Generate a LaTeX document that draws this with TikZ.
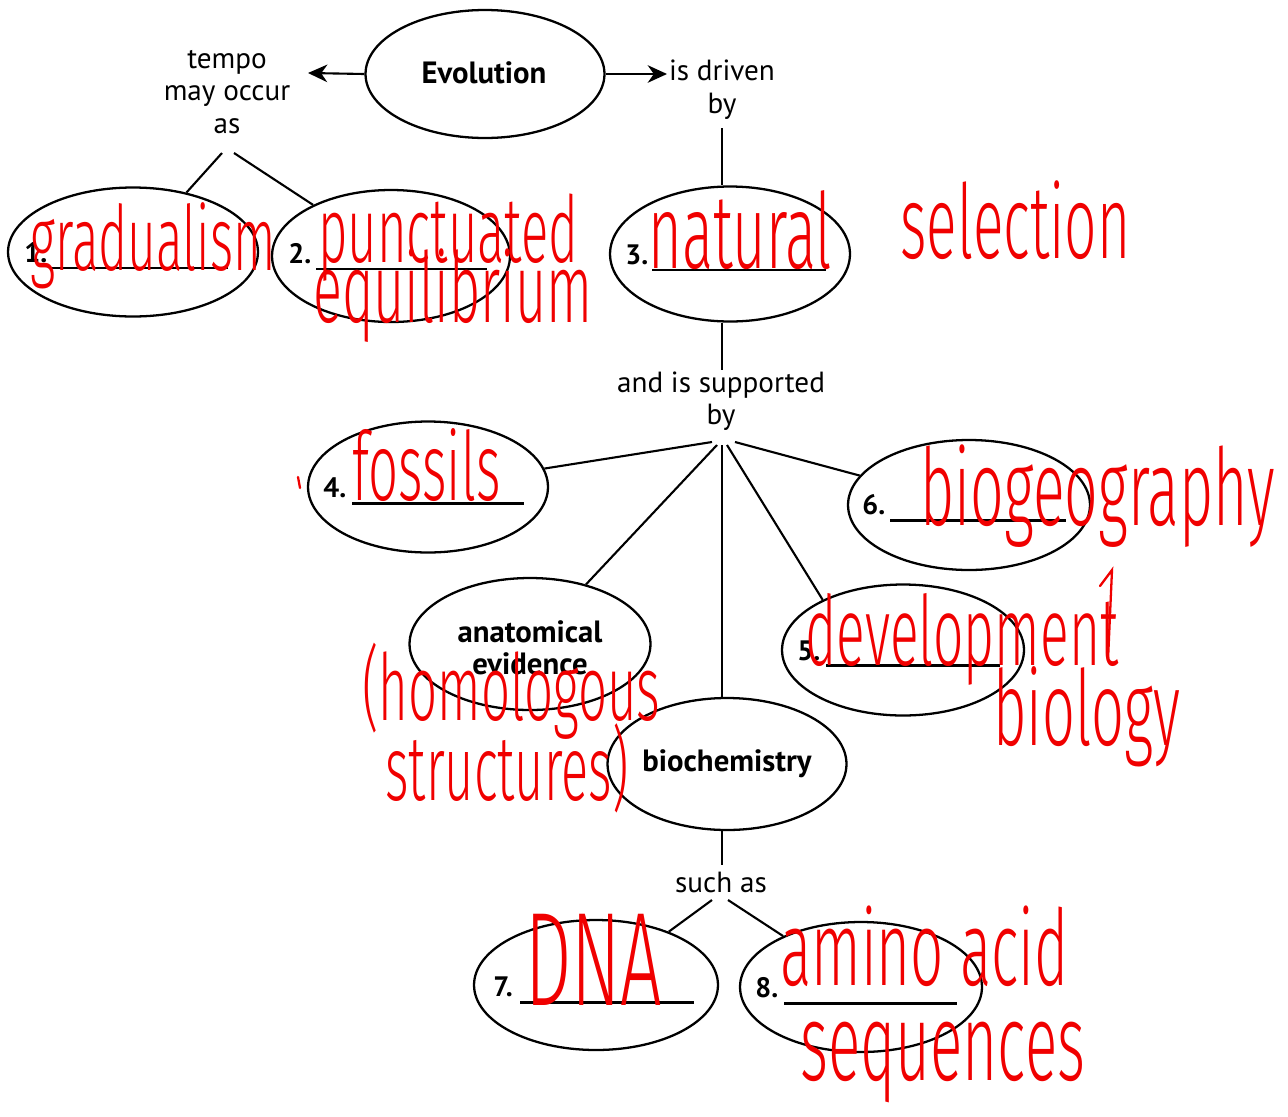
\documentclass[tikz,border=0pt]{standalone}
\usepackage{fontspec}
\setmainfont{PT Sans}
\usepackage{graphicx}
\usetikzlibrary{shapes.geometric,arrows.meta}
\IfFontExistsTF{Fira Sans Light}
  {\newfontfamily\hand[FakeStretch=0.55]{Fira Sans Light}}
  {\newfontfamily\hand[FakeStretch=0.6]{PT Sans}}
\newlength\pxu \setlength\pxu{0.02cm}
\definecolor{pen}{RGB}{240,0,0}
\newcommand\hw[2]{\resizebox{#1\pxu}{!}{\hand #2}}
\begin{document}
\begin{tikzpicture}[x=0.02cm,y=-0.02cm,
  ell/.style 2 args={draw, ellipse, line width=1.3pt, inner sep=0pt, minimum width=#1cm, minimum height=#2cm},
  lbl/.style={font=\fontsize{16.6}{18.6}\selectfont, align=center, inner sep=0pt},
  bld/.style={font=\fontsize{17.5}{18}\selectfont\bfseries, align=center, inner sep=0pt},
  num/.style={font=\fontsize{16}{16}\selectfont\bfseries, inner sep=0pt, anchor=base west},
  con/.style={line width=1.2pt},
  arr/.style={con, -{Stealth[length=11pt,width=10pt,inset=3.5pt]}},
  blank/.style={line width=1.7pt},
  hand/.style={text=pen, inner sep=0pt, anchor=base west},
  pens/.style={draw=pen, line width=1.3pt, line cap=round},
]
\useasboundingbox (0,0) rectangle (1288,1116);
% ellipses
\node[ell={4.78}{2.56}] (ev) at (485,74) {};
\node[ell={5.0}{2.58}] (n1) at (133,252) {};
\node[ell={4.76}{2.64}] (n2) at (391,256) {};
\node[ell={4.8}{2.7}] (n3) at (730,254) {};
\node[ell={4.8}{2.62}] (n4) at (428,487) {};
\node[ell={4.84}{2.6}] (n6) at (969,505) {};
\node[ell={4.82}{2.64}] (an) at (530,644) {};
\node[ell={4.84}{2.62}] (n5) at (903,650) {};
\node[ell={4.78}{2.64}] (bio) at (727,764) {};
\node[ell={4.88}{2.6}] (n7) at (596,985) {};
\node[ell={4.84}{2.6}] (n8) at (861,987) {};
% texts in ellipses
\node[bld] (evt) at (484,73) {Evolution};
\node[bld] (ant) at (530,648) {anatomical\\evidence};
\node[bld] (biot) at (727,764) {biochemistry};
% link labels
\node[lbl] (tempo) at (227,92) {tempo\\may occur\\as};
\node[lbl] (drv) at (722,90) {is driven\\by};
\node[lbl] (sup) at (721,401) {and is supported\\by};
\node[lbl] (such) at (721,882) {such as};
% numbers and blanks
\node[num] (k1) at (24,262) {1.};
\node[num] (k2) at (288,263) {2.};
\node[num] (k3) at (625,264) {3.};
\node[num] (k4) at (323,497) {4.};
\node[num] (k6) at (862,514) {6.};
\node[num] (k5) at (797,660) {5.};
\node[num] (k7) at (493,996) {7.};
\node[num] (k8) at (755,997) {8.};
\draw[blank] (50,268) -- (228,268);
\draw[blank] (316,269) -- (487,269);
\draw[blank] (652,270) -- (826,270);
\draw[blank] (352,503) -- (524,503);
\draw[blank] (890,520) -- (1066,520);
\draw[blank] (826,665) -- (1000,665);
\draw[blank] (520,1002) -- (694,1002);
\draw[blank] (784,1003) -- (957,1003);
% connectors
\coordinate (al) at (308,73);
\coordinate (ar) at (667,74);
\draw[arr] (ev.west) -- (al);
\draw[arr] (ev.east) -- (ar);
\coordinate (t1) at (222,153);
\coordinate (t2) at (234,153);
\draw[con] (t1) -- (n1);
\draw[con] (t2) -- (n2);
\coordinate (d1) at (722,128);
\draw[con] (d1) -- (d1 |- n3.north);
\coordinate (d2) at (722,370);
\draw[con] (d2 |- n3.south) -- (d2);
\coordinate (s1) at (712,442);
\coordinate (s2) at (717,445);
\coordinate (s3) at (722,445);
\coordinate (s4) at (727,445);
\coordinate (s5) at (735,442);
\draw[con] (s1) -- (n4);
\draw[con] (s2) -- (an);
\draw[con] (s3) -- (s3 |- bio.north);
\draw[con] (s4) -- (n5.148);
\draw[con] (s5) -- (n6);
\coordinate (b1) at (722,865);
\draw[con] (b1 |- bio.south) -- (b1);
\coordinate (u1) at (712,900);
\coordinate (u2) at (728,900);
\draw[con] (u1) -- (n7);
\draw[con] (u2) -- (n8);
% handwritten answers
\node[hand] (h1) at (30,270) {\hw{245}{gradualism}};
\node[hand] (h2) at (318,262) {\hw{260}{punctuated}};
\node[hand] (h3) at (313,322) {\hw{279}{equilibrium}};
\node[hand] (h4) at (648,268) {\hw{184}{natural}};
\node[hand] (h5) at (900,258) {\hw{230}{selection}};
\node[hand] (h6) at (352,500) {\hw{148}{fossils}};
\node[hand] (h7) at (920,525) {\hw{355}{biogeography}};
\node[hand] (h8) at (805,665) {\hw{313}{development}};
\node[hand] (h9) at (993,745) {\hw{187}{biology}};
\node[hand] (h10) at (362,720) {\hw{298}{(homologous}};
\node[hand] (h11) at (385,800) {\hw{243}{structures)}};
\node[hand] (h12) at (525,1005) {\hw{137}{DNA}};
\node[hand] (h13) at (780,985) {\hw{288}{amino acid}};
\node[hand] (h14) at (800,1080) {\hw{285}{sequences}};
\draw[pens] (298,477) -- (300,488);
\draw[pens] (1100,586) -- (1112,570) -- (1108,660);
\end{tikzpicture}
\end{document}
